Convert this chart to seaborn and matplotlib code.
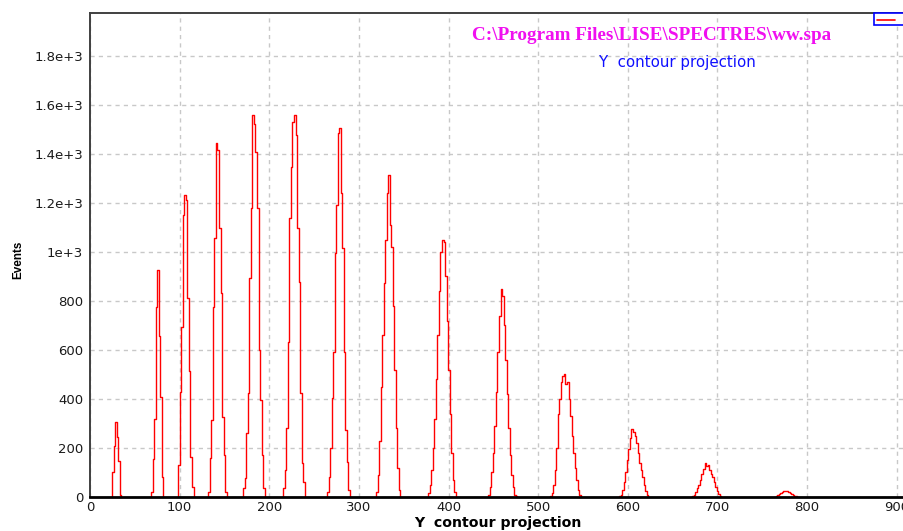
import numpy as np
import pandas as pd
import matplotlib
matplotlib.use("Agg")
import matplotlib.pyplot as plt
import seaborn as sns
from matplotlib.patches import Rectangle
from matplotlib.lines import Line2D

# ---------------- data ----------------
BIN_WIDTH = 1.7
peak_starts = [24.9, 68.4, 98.5, 132.0, 171.0, 215.7, 264.4, 319.1,
               377.4, 444.4, 513.5, 590.5, 672.0, 763.5]

peak_01 = [103, 208, 307, 245, 147, 10]
peak_02 = [20, 155, 318, 775, 927, 657, 408, 82]
peak_03 = [131, 430, 695, 1151, 1233, 1212, 811, 515, 163, 40]
peak_04 = [22, 159, 314, 777, 1057, 1443, 1418, 1096, 832, 328, 171, 22]
peak_05 = [36, 77, 260, 423, 893, 1179, 1558, 1524, 1409, 1179, 600, 396, 171, 36]
peak_06 = [36, 110, 282, 634, 1137, 1348, 1532, 1559, 1478, 1098, 879, 423, 139, 63]
peak_07 = [22, 83, 199, 403, 593, 995, 1192, 1484, 1505, 1240, 1015, 593, 273, 144, 28]
peak_08 = [20, 90, 230, 450, 660, 872, 1049, 1240, 1314, 1110, 1022, 780, 520, 280, 120, 30]
peak_09 = [15, 50, 110, 200, 320, 480, 660, 840, 1000, 1050, 1040, 900, 720, 520, 340, 180, 70, 20]
peak_10 = [10, 40, 100, 180, 290, 430, 590, 740, 850, 820, 700, 560, 420, 280, 170, 90, 40, 10, 3]
peak_11 = [5, 15, 50, 110, 200, 340, 400, 470, 495, 500, 460, 470, 400, 330, 250, 180, 120, 70, 30, 10]
peak_12 = [5, 10, 30, 60, 100, 150, 195, 240, 276, 265, 250, 220, 180, 140, 110, 80, 50, 25, 8]
peak_13 = [3, 10, 20, 35, 50, 70, 95, 115, 140, 125, 130, 110, 95, 80, 60, 40, 25, 12, 4]
peak_14 = [2, 5, 8, 12, 16, 20, 24, 26, 25, 22, 18, 14, 10, 6, 3, 1]

peak_counts = [peak_01, peak_02, peak_03, peak_04, peak_05, peak_06, peak_07,
               peak_08, peak_09, peak_10, peak_11, peak_12, peak_13, peak_14]

x_ticks = [0, 100, 200, 300, 400, 500, 600, 700, 800, 900]
x_tick_labels = ["0", "100", "200", "300", "400", "500", "600", "700", "800", "900"]
y_ticks = [0, 200, 400, 600, 800, 1000, 1200, 1400, 1600, 1800]
y_tick_labels = ["0", "200", "400", "600", "800", "1e+3", "1.2e+3", "1.4e+3", "1.6e+3", "1.8e+3"]

title_text = "C:\\Program Files\\LISE\\SPECTRES\\ww.spa"
subtitle_text = "Y  contour projection"
x_label = "Y  contour projection"
y_label = "Events"

# ---------------- build table ----------------
rows = []
for k, (start, counts) in enumerate(zip(peak_starts, peak_counts)):
    edges = [start + i * BIN_WIDTH for i in range(len(counts) + 1)]
    xs = [start] + edges
    ys = [0] + list(counts) + [0]
    for x, y in zip(xs, ys):
        rows.append({"peak": k, "channel": x, "events": y})
df = pd.DataFrame(rows)

# ---------------- plot ----------------
sns.set_style("white")
plt.rcParams["font.family"] = ["DejaVu Sans"]

W, H = 904, 531
fig = plt.figure(figsize=(W / 100, H / 100), dpi=100)
ax_left = 90 / W
ax_bottom = 1 - 497 / H
ax_height = (497 - 13) / H
x_max = 910
ax_width = x_max * 0.8963 / W
ax = fig.add_axes([ax_left, ax_bottom, ax_width, ax_height])

sns.lineplot(data=df, x="channel", y="events", units="peak", estimator=None,
             sort=False, drawstyle="steps-post", color="#ff0000", lw=1.0,
             ax=ax, legend=False)

ax.set_xlim(0, x_max)
ax.set_ylim(0, 1975)
ax.set_xticks(x_ticks)
ax.set_xticklabels(x_tick_labels)
ax.set_yticks(y_ticks)
ax.set_yticklabels(y_tick_labels)
ax.tick_params(axis="both", length=0, labelsize=9.5, labelcolor="#1a1a1a")
ax.tick_params(axis="x", pad=3)
ax.tick_params(axis="y", pad=5)

ax.grid(True, color="#c8c8c8", linestyle=(0, (3, 3)), lw=1.0)
ax.set_axisbelow(True)

for side in ["left", "top"]:
    ax.spines[side].set_color("#404040")
    ax.spines[side].set_linewidth(1.4)
ax.spines["bottom"].set_color("#000000")
ax.spines["bottom"].set_linewidth(2.0)
ax.spines["right"].set_visible(False)
for sp in ax.spines.values():
    sp.set_zorder(5)

ax.set_xlabel(x_label, fontsize=10.2, fontweight="bold", labelpad=1, color="#000000")
ax.set_ylabel(y_label, fontsize=8.5, fontweight="bold", family=["Liberation Sans"], color="#000000")
ax.yaxis.set_label_coords(-0.080, 0.49)

fig.text(652 / W, 1 - 35 / H, title_text, color="#f010f0", fontsize=13.8,
         fontweight="bold", family=["Liberation Serif"], ha="center", va="center")
fig.text(677 / W, 1 - 62 / H, subtitle_text, color="#1010ff", fontsize=10.8,
         ha="center", va="center")

# legend stub at top right
fig.add_artist(Rectangle((874 / W, 1 - 25 / H), 34 / W, 12 / H,
                         transform=fig.transFigure, facecolor="white",
                         edgecolor="#0000ff", lw=1.2, zorder=10))
fig.add_artist(Line2D([877 / W, 895 / W], [1 - 20 / H, 1 - 20 / H],
                      transform=fig.transFigure, color="#ff0000", lw=1.2, zorder=11))

fig.savefig("out.png", dpi=100)
